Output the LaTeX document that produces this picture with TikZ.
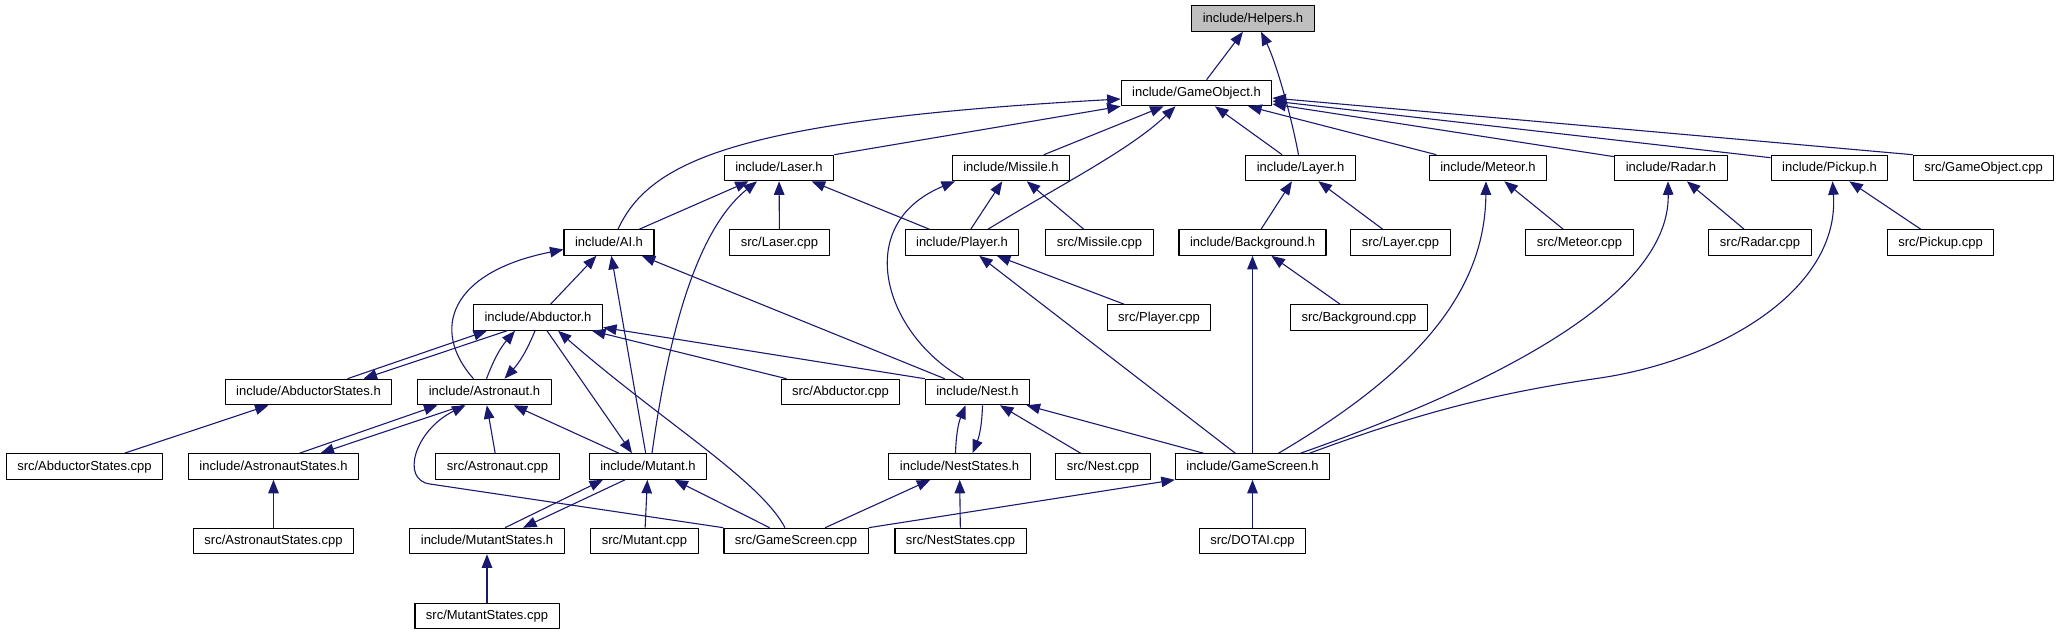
\documentclass[tikz,border=0pt]{standalone}
\usepackage{fontspec}
\setmainfont{Liberation Sans}
\usetikzlibrary{arrows.meta}

\definecolor{depblue}{RGB}{25,25,112}
\definecolor{rootgray}{RGB}{191,191,191}

\begin{document}
\begin{tikzpicture}[x=1pt,y=-1pt,line join=round,
  file/.style={draw=black,line width=1.1pt,fill=white,inner xsep=11pt,inner ysep=0pt,
    minimum height=25.5pt,text height=9.5pt,text depth=2.5pt,
    font=\fontsize{13pt}{15pt}\selectfont},
  root/.style={file,fill=rootgray},
  dep/.style={draw=depblue,line width=1.1pt,-{Triangle[length=13.5pt,width=10.5pt]}}]

\useasboundingbox (0,0) rectangle (2063,635);

% -----------------------
% Lignes du graphe
% -----------------------
\def\yA{18.5}  \def\yB{93}    \def\yC{168}
\def\yD{242.5} \def\yE{317.5} \def\yF{392}
\def\yG{466.5} \def\yH{541}   \def\yI{616}

% -----------------------
% Fichiers
% -----------------------
\node[root] (Helpers) at (1253,\yA) {include/Helpers.h};

\node[file] (GameObject) at (1196.5,\yB) {include/GameObject.h};

\node[file] (Laser)         at (779,\yC)    {include/Laser.h};
\node[file] (Missile)       at (1011,\yC)   {include/Missile.h};
\node[file] (Layer)         at (1300.5,\yC) {include/Layer.h};
\node[file] (Meteor)        at (1488,\yC)   {include/Meteor.h};
\node[file] (Radar)         at (1671,\yC)   {include/Radar.h};
\node[file] (Pickup)        at (1829.5,\yC) {include/Pickup.h};
\node[file] (GameObjectCpp) at (1983.5,\yC) {src/GameObject.cpp};

\node[file] (AI)         at (609,\yD)    {include/AI.h};
\node[file] (LaserCpp)   at (779.5,\yD)  {src/Laser.cpp};
\node[file] (Player)     at (962,\yD)    {include/Player.h};
\node[file] (MissileCpp) at (1099.5,\yD) {src/Missile.cpp};
\node[file] (Background) at (1252.5,\yD) {include/Background.h};
\node[file] (LayerCpp)   at (1400.5,\yD) {src/Layer.cpp};
\node[file] (MeteorCpp)  at (1579.5,\yD) {src/Meteor.cpp};
\node[file] (RadarCpp)   at (1760,\yD)   {src/Radar.cpp};
\node[file] (PickupCpp)  at (1940.5,\yD) {src/Pickup.cpp};

\node[file] (Abductor)      at (538,\yE)  {include/Abductor.h};
\node[file] (PlayerCpp)     at (1159,\yE) {src/Player.cpp};
\node[file] (BackgroundCpp) at (1359,\yE) {src/Background.cpp};

\node[file] (AbductorStates) at (308.5,\yF) {include/AbductorStates.h};
\node[file] (Astronaut)      at (484.5,\yF) {include/Astronaut.h};
\node[file] (AbductorCpp)    at (840.5,\yF) {src/Abductor.cpp};
\node[file] (Nest)           at (977.5,\yF) {include/Nest.h};

\node[file] (AbductorStatesCpp) at (84.5,\yG)   {src/AbductorStates.cpp};
\node[file] (AstronautStates)   at (273.5,\yG)  {include/AstronautStates.h};
\node[file] (AstronautCpp)      at (497.5,\yG)  {src/Astronaut.cpp};
\node[file] (Mutant)            at (648,\yG)    {include/Mutant.h};
\node[file] (NestStates)        at (959.5,\yG)  {include/NestStates.h};
\node[file] (NestCpp)           at (1103,\yG)   {src/Nest.cpp};
\node[file] (GameScreen)        at (1252.5,\yG) {include/GameScreen.h};

\node[file] (AstronautStatesCpp) at (273.5,\yH)  {src/AstronautStates.cpp};
\node[file] (MutantStates)       at (487,\yH)    {include/MutantStates.h};
\node[file] (MutantCpp)          at (644.5,\yH)  {src/Mutant.cpp};
\node[file] (GameScreenCpp)      at (796,\yH)    {src/GameScreen.cpp};
\node[file] (NestStatesCpp)      at (960.5,\yH)  {src/NestStates.cpp};
\node[file] (DOTAICpp)           at (1252.5,\yH) {src/DOTAI.cpp};

\node[file] (MutantStatesCpp) at (487,\yI) {src/MutantStates.cpp};

% -----------------------
% Inclusions vers Helpers.h et GameObject.h
% -----------------------
\draw[dep] (GameObject) -- (Helpers);
\draw[dep] ([xshift=-2pt]Layer.north) .. controls (1290,110) and (1275,60) .. ([xshift=8pt]Helpers.south);

\draw[dep] ([xshift=9pt]AI.north) .. controls (650,160) and (740,120) .. ([yshift=-6pt]GameObject.west);
\draw[dep] (Laser.north east) -- (GameObject.south west);
\draw[dep] (Missile) -- (GameObject);
\draw[dep] ([xshift=26pt]Player.north) .. controls (1060,185) and (1130,150) .. ([xshift=-21pt]GameObject.south);
\draw[dep] (Layer) -- (GameObject);
\draw[dep] (Meteor) -- (GameObject);
\draw[dep] ([yshift=-2pt]Radar.north west) -- ([yshift=-11pt]GameObject.east);
\draw[dep] ([yshift=-3pt]Pickup.north west) -- ([yshift=-8pt]GameObject.east);
\draw[dep] (GameObjectCpp.north west) -- ([yshift=-5pt]GameObject.east);

% -----------------------
% Deuxième niveau
% -----------------------
\draw[dep] (AI) -- (Laser);
\draw[dep] ([xshift=4pt]Mutant.north) .. controls (665,360) and (690,235) .. ([xshift=-22pt]Laser.south);
\draw[dep] (LaserCpp) -- (Laser);
\draw[dep] (Player) -- (Laser);

\draw[dep] ([xshift=-14pt]Nest.north) .. controls (885,335) and (850,225) .. ([xshift=-56pt]Missile.south);
\draw[dep] (Player) -- (Missile);
\draw[dep] (MissileCpp) -- (Missile);

\draw[dep] (Background) -- (Layer);
\draw[dep] (LayerCpp) -- (Layer);

\draw[dep] ([xshift=26pt]GameScreen.north) .. controls (1420,370) and (1485,290) .. ([xshift=-2pt]Meteor.south);
\draw[dep] (MeteorCpp) -- (Meteor);
\draw[dep] ([xshift=48pt]GameScreen.north) .. controls (1480,390) and (1670,300) .. ([xshift=-3pt]Radar.south);
\draw[dep] (RadarCpp) -- (Radar);
\draw[dep] ([xshift=57pt]GameScreen.north) .. controls (1400,420) and (1480,395) .. (1600,378)
  .. controls (1720,360) and (1840,290) .. ([xshift=3pt]Pickup.south);
\draw[dep] (PickupCpp) -- (Pickup);

% -----------------------
% AI.h, Player.h, Background.h
% -----------------------
\draw[dep] (Abductor) -- (AI);
\draw[dep] ([xshift=-11pt]Astronaut.north) .. controls (430,330) and (450,272) .. ([yshift=-7pt]AI.west);
\draw[dep] (Mutant) -- (AI);
\draw[dep] (Nest) -- (AI);

\draw[dep] (PlayerCpp) -- (Player);
\draw[dep] (GameScreen) -- (Player);
\draw[dep] (GameScreen) -- (Background);
\draw[dep] (BackgroundCpp) -- (Background);

% -----------------------
% Abductor.h et Astronaut.h (inclusions croisées)
% -----------------------
\draw[dep] ([xshift=39pt]AbductorStates.north) -- ([xshift=-51pt]Abductor.south);
\draw[dep] ([xshift=-31pt]Abductor.south) -- ([xshift=55pt]AbductorStates.north);
\draw[dep] ([xshift=2pt]Astronaut.north) to[bend left=10] ([xshift=-23pt]Abductor.south);
\draw[dep] ([xshift=-3pt]Abductor.south) to[bend left=10] ([xshift=20pt]Astronaut.north);
\draw[dep] ([xshift=9pt]Abductor.south) -- ([xshift=-16pt]Mutant.north);
\draw[dep] ([xshift=-11pt]GameScreenCpp.north) .. controls (760,480) and (660,420) .. ([xshift=20pt]Abductor.south);
\draw[dep] (AbductorCpp) -- (Abductor);
\draw[dep] (Nest.north west) -- ([yshift=-10pt]Abductor.east);

\draw[dep] ([xshift=26pt]AstronautStates.north) -- ([xshift=-47pt]Astronaut.south);
\draw[dep] ([xshift=-21pt]Astronaut.south) -- ([xshift=47pt]AstronautStates.north);
\draw[dep] (GameScreenCpp.north west) -- (430,484) .. controls (400,480) and (415,430) .. ([xshift=-19pt]Astronaut.south);
\draw[dep] (AstronautCpp) -- (Astronaut);
\draw[dep] (Mutant) -- (Astronaut);

\draw[dep] (AbductorStatesCpp) -- (AbductorStates);
\draw[dep] (AstronautStatesCpp) -- (AstronautStates);

% -----------------------
% Mutant.h, Nest.h, GameScreen.h
% -----------------------
\draw[dep] ([xshift=18pt]MutantStates.north) -- ([xshift=-45pt]Mutant.south);
\draw[dep] ([xshift=-23pt]Mutant.south) -- ([xshift=36pt]MutantStates.north);
\draw[dep] (MutantCpp) -- (Mutant);
\draw[dep] (GameScreenCpp) -- (Mutant);
\draw[dep] (MutantStatesCpp) -- (MutantStates);

\draw[dep] ([xshift=-4pt]NestStates.north) to[bend left=10] ([xshift=-12pt]Nest.south);
\draw[dep] ([xshift=5pt]Nest.south) to[bend left=10] ([xshift=13pt]NestStates.north);
\draw[dep] (NestCpp) -- (Nest);
\draw[dep] (GameScreen) -- (Nest);
\draw[dep] (NestStatesCpp) -- (NestStates);
\draw[dep] (GameScreenCpp) -- (NestStates);
\draw[dep] (GameScreenCpp.north east) -- (GameScreen.south west);
\draw[dep] (DOTAICpp) -- (GameScreen);

\end{tikzpicture}
\end{document}
